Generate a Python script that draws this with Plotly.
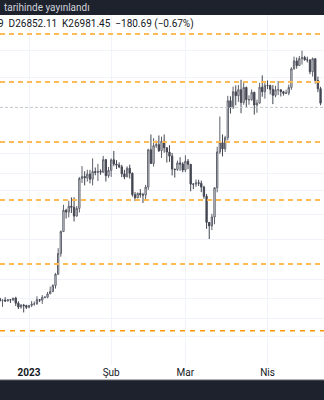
import plotly.graph_objects as go

# ---------------- data ----------------
dates = [
    "2022-12-21", "2022-12-22", "2022-12-23", "2022-12-24", "2022-12-25", "2022-12-26", "2022-12-27",
    "2022-12-28", "2022-12-29", "2022-12-30", "2022-12-31",
    "2023-01-01", "2023-01-02", "2023-01-03", "2023-01-04", "2023-01-05", "2023-01-06", "2023-01-07",
    "2023-01-08", "2023-01-09", "2023-01-10", "2023-01-11", "2023-01-12", "2023-01-13", "2023-01-14",
    "2023-01-15", "2023-01-16", "2023-01-17", "2023-01-18", "2023-01-19", "2023-01-20", "2023-01-21",
    "2023-01-22", "2023-01-23", "2023-01-24", "2023-01-25", "2023-01-26", "2023-01-27", "2023-01-28",
    "2023-01-29", "2023-01-30", "2023-01-31",
    "2023-02-01", "2023-02-02", "2023-02-03", "2023-02-04", "2023-02-05", "2023-02-06", "2023-02-07",
    "2023-02-08", "2023-02-09", "2023-02-10", "2023-02-11", "2023-02-12", "2023-02-13", "2023-02-14",
    "2023-02-15", "2023-02-16", "2023-02-17", "2023-02-18", "2023-02-19", "2023-02-20", "2023-02-21",
    "2023-02-22", "2023-02-23", "2023-02-24", "2023-02-25", "2023-02-26", "2023-02-27", "2023-02-28",
    "2023-03-01", "2023-03-02", "2023-03-03", "2023-03-04", "2023-03-05", "2023-03-06", "2023-03-07",
    "2023-03-08", "2023-03-09", "2023-03-10", "2023-03-11", "2023-03-12", "2023-03-13", "2023-03-14",
    "2023-03-15", "2023-03-16", "2023-03-17", "2023-03-18", "2023-03-19", "2023-03-20", "2023-03-21",
    "2023-03-22", "2023-03-23", "2023-03-24", "2023-03-25", "2023-03-26", "2023-03-27", "2023-03-28",
    "2023-03-29", "2023-03-30", "2023-03-31",
    "2023-04-01", "2023-04-02", "2023-04-03", "2023-04-04", "2023-04-05", "2023-04-06", "2023-04-07",
    "2023-04-08", "2023-04-09", "2023-04-10", "2023-04-11", "2023-04-12", "2023-04-13", "2023-04-14",
    "2023-04-15", "2023-04-16", "2023-04-17", "2023-04-18", "2023-04-19", "2023-04-20", "2023-04-21",
]
opens = [
    16904, 16817, 16830, 16796, 16847, 16842, 16919, 16706, 16547, 16633, 16607,
    16542, 16617, 16672, 16675, 16850, 16831, 16951, 16955, 17091, 17196, 17446, 17934, 18869, 19909,
    20976, 20880, 21185, 21132, 20677, 21071, 22667, 22783, 22707, 22917, 22632, 23061, 23009, 23074,
    23028, 23743, 22827,
    23125, 23732, 23488, 23431, 23326, 22933, 22762, 23250, 22964, 21796, 21626, 21862, 21783, 21773,
    22200, 24324, 23517, 24569, 24631, 24271, 24843, 24439, 24188, 23947, 23198, 23175, 23555, 23492,
    23147, 23646, 23475, 22362, 22354, 22435, 22409, 22198, 21705, 20363, 20187, 20632, 22163, 24197,
    24746, 24376, 25055, 27423, 26965, 28039, 27767, 28176, 27307, 28333, 27493, 27494, 27994, 27139,
    27268, 28348, 28033,
    28478, 28465, 28200, 27790, 28170, 28176, 28044, 27925, 27947, 28333, 29653, 30235, 29892, 30399,
    30485, 30318, 30316, 29445, 30398, 28822, 28245,
]
highs = [
    16916, 16868, 16953, 16864, 16866, 16920, 16972, 16785, 16664, 16677, 16644,
    16628, 16799, 16778, 16991, 16879, 17041, 16981, 17176, 17398, 17499, 17991, 19117, 19965, 21258,
    21050, 21466, 21647, 21650, 21192, 22755, 23371, 23078, 23162, 23150, 23816, 23290, 23500, 23185,
    23960, 23783, 23320,
    23812, 24255, 23715, 23587, 23443, 23158, 23350, 23452, 23011, 21938, 21906, 22090, 21894, 22319,
    24380, 25250, 25022, 24877, 25192, 25121, 25250, 24476, 24600, 24132, 23218, 23689, 23882, 23600,
    23999, 23780, 23479, 22420, 22614, 22603, 22551, 22271, 21834, 20367, 20792, 22185, 24500, 26386,
    25250, 25169, 27756, 27724, 28390, 28472, 28500, 28868, 28752, 28390, 27792, 28194, 28037, 27500,
    28650, 29184, 28660,
    28821, 28530, 28494, 28444, 28775, 28190, 28100, 28180, 28530, 29770, 30550, 30485, 30595, 31000,
    30610, 30549, 30319, 30485, 30412, 29095, 28374,
]
lows = [
    16752, 16560, 16760, 16785, 16715, 16789, 16592, 16470, 16488, 16333, 16471,
    16499, 16548, 16606, 16652, 16753, 16679, 16909, 16911, 17091, 17162, 17315, 17911, 18720, 19889,
    20551, 20611, 20835, 20407, 20659, 20861, 22422, 22292, 22500, 22400, 22292, 22850, 22534, 22878,
    22976, 22500, 22715,
    22760, 23363, 23204, 23253, 22745, 22628, 22746, 22665, 21688, 21451, 21599, 21630, 21351, 21532,
    22047, 23505, 23339, 24430, 24192, 23840, 24148, 23574, 23608, 22841, 22722, 23101, 23106, 23020,
    23021, 23195, 21971, 22085, 22211, 22258, 21927, 21580, 20042, 19549, 19980, 20271, 21918, 24081,
    23930, 24194, 24890, 26578, 26880, 27124, 27353, 26601, 27155, 27000, 27156, 27420, 26508, 26631,
    27241, 27696, 27563,
    28220, 27856, 27200, 27662, 27806, 27711, 27770, 27882, 27800, 28170, 29590, 29667, 29869, 29967,
    30250, 30121, 29270, 29100, 28600, 28011, 27125,
]
closes = [
    16817, 16830, 16796, 16847, 16842, 16919, 16706, 16547, 16633, 16607, 16542,
    16617, 16672, 16675, 16850, 16831, 16951, 16955, 17091, 17196, 17446, 17934, 18869, 19909, 20976,
    20880, 21185, 21132, 20677, 21071, 22667, 22783, 22707, 22917, 22632, 23061, 23009, 23074, 23028,
    23743, 22827, 23125,
    23732, 23488, 23431, 23326, 22933, 22762, 23250, 22964, 21796, 21626, 21862, 21783, 21773, 22200,
    24324, 23517, 24569, 24631, 24271, 24843, 24439, 24188, 23947, 23198, 23175, 23555, 23492, 23147,
    23646, 23475, 22362, 22354, 22435, 22409, 22198, 21705, 20363, 20187, 20632, 22163, 24197, 24746,
    24376, 25055, 27423, 26965, 28039, 27767, 28176, 27307, 28333, 27493, 27494, 27994, 27139, 27268,
    28348, 28033, 28478,
    28465, 28200, 27790, 28170, 28176, 28044, 27925, 27947, 28333, 29653, 30235, 29892, 30399, 30485,
    30318, 30316, 29445, 30398, 28822, 28245, 27262,
]

# horizontal drawn levels (orange dashed) and last price line
levels_light = [32293, 28716, 24796, 21509, 18393]
level_strong = [15614]
last_price = [26981.45]

# faint horizontal grid (price values)
grid_prices = [31050, 29054, 24076, 22962, 21990, 20749, 19534, 17718, 16884, 16077, 15394]

# x axis ticks
tick_dates = ["2023-01-01", "2023-02-01", "2023-03-01", "2023-04-01"]
tick_labels = ["<b>2023</b>", "Şub", "Mar", "Nis"]

header_text = "tarihinde yayınlandı"
legend_text = "9  D26852.11  K26981.45  −180.69 (−0.67%)"

x_range = ["2022-12-21 01:25", "2023-04-22 07:10"]
y_range_log = [4.15718, 4.52931]

# ---------------- figure ----------------
W, H = 324, 400
MT, MB = 15, 35
PH = H - MT - MB

fig = go.Figure()

fig.add_trace(go.Candlestick(
    x=dates, open=opens, high=highs, low=lows, close=closes,
    increasing=dict(fillcolor="#ffffff", line=dict(color="#5d606b", width=1)),
    decreasing=dict(fillcolor="#434651", line=dict(color="#434651", width=1)),
    whiskerwidth=0, showlegend=False, hoverinfo="skip",
))

for lv in levels_light:
    fig.add_trace(go.Scatter(
        x=x_range, y=[lv, lv], mode="lines",
        line=dict(color="rgba(255,183,77,0.95)", width=2, dash="5px,4px"),
        showlegend=False, hoverinfo="skip",
    ))
for lv in level_strong:
    fig.add_trace(go.Scatter(
        x=x_range, y=[lv, lv], mode="lines",
        line=dict(color="#ff9800", width=1.5, dash="5px,5px"),
        showlegend=False, hoverinfo="skip",
    ))
for lv in last_price:
    fig.add_trace(go.Scatter(
        x=x_range, y=[lv, lv], mode="lines",
        line=dict(color="#c3c6ce", width=1, dash="3px,2px"),
        showlegend=False, hoverinfo="skip",
    ))

fig.update_layout(
    width=W, height=H,
    margin=dict(l=0, r=0, t=MT, b=MB, pad=0),
    paper_bgcolor="#ffffff", plot_bgcolor="#ffffff",
    font=dict(family="Roboto, 'Noto Sans', sans-serif", color="#131722", size=10),
    showlegend=False,
    xaxis=dict(
        type="date", range=x_range, rangeslider=dict(visible=False),
        tickvals=tick_dates, ticktext=tick_labels,
        showgrid=True, gridcolor="#f0f3fa", gridwidth=1,
        zeroline=False, showline=False, ticks="",
        tickfont=dict(size=10, color="#131722"),
        fixedrange=True,
    ),
    yaxis=dict(
        type="log", range=y_range_log,
        tickvals=grid_prices, showticklabels=False,
        showgrid=True, gridcolor="#f0f3fa", gridwidth=1,
        zeroline=False, showline=False, ticks="",
        fixedrange=True,
    ),
    shapes=[
        dict(type="rect", xref="paper", yref="paper", x0=0, x1=1,
             y0=1, y1=1 + MT / PH + 0.01, fillcolor="#1e222d", line=dict(width=0), layer="above"),
        dict(type="rect", xref="paper", yref="paper", x0=0, x1=1,
             y0=-MB / PH - 0.01, y1=-15 / PH, fillcolor="#1e222d", line=dict(width=0), layer="above"),
        dict(type="line", xref="paper", yref="paper", x0=0, x1=1,
             y0=-15 / PH, y1=-15 / PH, line=dict(color="#5d606b", width=1), layer="above"),
    ],
    annotations=[
        dict(text=header_text, xref="paper", yref="paper", x=2 / W, y=1 + (MT - 8) / PH,
             xanchor="left", yanchor="middle", showarrow=False,
             font=dict(size=10, color="#d1d4dc")),
        dict(text=legend_text, xref="paper", yref="paper", x=-4 / W, y=1 - (24 - MT) / PH,
             xanchor="left", yanchor="middle", showarrow=False,
             font=dict(size=10, color="#131722")),
    ],
)

fig.write_html("out.html", config={"displayModeBar": False})
